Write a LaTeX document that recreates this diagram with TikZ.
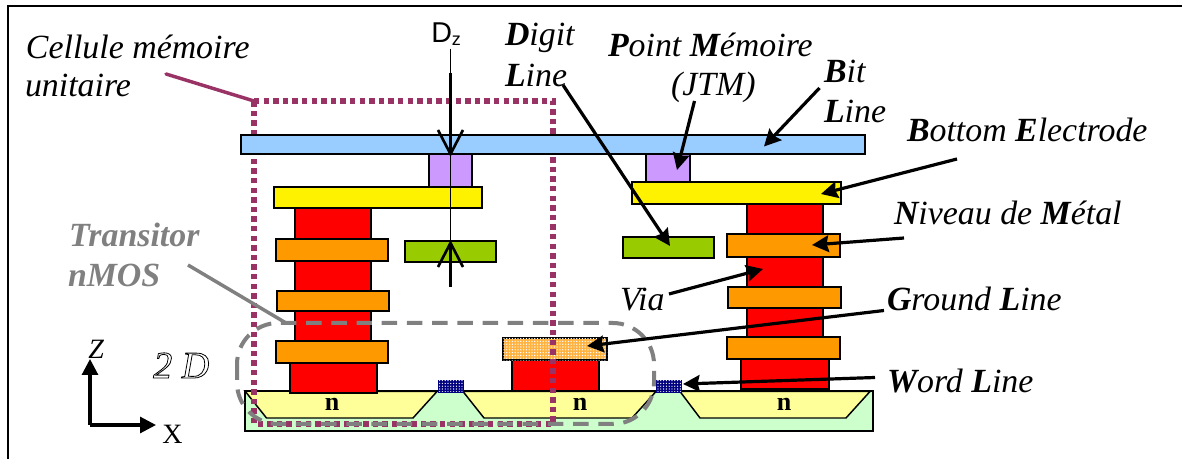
\documentclass[tikz,border=0pt]{standalone}
\usepackage{fontspec}
\setmainfont{Liberation Serif}
\setsansfont{Liberation Sans}
\usetikzlibrary{arrows.meta,patterns.meta}
\definecolor{cellc}{HTML}{993366}
\definecolor{grayc}{HTML}{808080}
\definecolor{bitc}{HTML}{99CCFF}
\definecolor{viac}{HTML}{CC99FF}
\definecolor{metalc}{HTML}{FF9900}
\definecolor{digitc}{HTML}{99CC00}
\definecolor{subc}{HTML}{CCFFCC}
\definecolor{wellc}{HTML}{FFFF99}
\definecolor{wordc}{HTML}{000080}
\newcommand{\Bi}[1]{\textbf{\textit{#1}}}
\newcommand{\blk}[6]{%
  \pgfmathsetmacro\blkw{(#4-#2)*0.75}%
  \pgfmathsetmacro\blkh{(#5-#3)*0.75}%
  \node[layer,#6,minimum width=\blkw pt,minimum height=\blkh pt] (#1) at ({(#2+#4)/2},{(#3+#5)/2}) {};}
\tikzset{
  x=0.75pt,y=-0.75pt,
  layer/.style={draw=black,line width=1.5pt,inner sep=0pt,outer sep=0pt},
  lab/.style={anchor=base west,inner sep=0pt,outer sep=0pt,font=\fontsize{25.4}{30}\selectfont\itshape},
  labgray/.style={lab,text=grayc,font=\fontsize{25.4}{30}\selectfont\itshape\bfseries},
  welltext/.style={anchor=base,inner sep=0pt,font=\fontsize{19.5}{24}\selectfont\bfseries},
  callout/.style={line width=2.4pt,-{Stealth[length=12.5pt,width=12.5pt,inset=1.5pt]}},
  vee/.style={line width=2pt,line join=miter},
  axisarrow/.style={line width=2.3pt,-{Triangle[length=12pt,width=12pt]}},
  celldots/.style={draw=cellc,line width=3.8pt,dash pattern=on 4pt off 3.2pt},
  tradash/.style={draw=grayc,line width=3pt,dash pattern=on 11.6pt off 7.3pt},
  dotsorange/.style={fill=metalc!75!white,postaction={pattern={Dots[distance=2.1pt,radius=0.55pt]},pattern color=white}},
  dotsblue/.style={fill=wordc,postaction={pattern={Dots[distance=2.1pt,radius=0.5pt]},pattern color=white}},
}
\begin{document}
\begin{tikzpicture}
\useasboundingbox (0,0) rectangle (1182,459);
% frame
\draw[line width=1.5pt] (8,459) -- (8,6) -- (1182,6);
% substrate and wells
\blk{sub}{245}{391}{873}{431}{fill=subc}
\draw[fill=wellc,line width=1.1pt] (245,391) -- (266.5,418) -- (413,418) -- (437,391.5) -- cycle;
\draw[fill=wellc,line width=1.1pt] (463,391.5) -- (484,418) -- (632,418) -- (656,391.5) -- cycle;
\draw[fill=wellc,line width=1.1pt] (680,391.5) -- (700,418) -- (846,418) -- (870,391.5) -- cycle;
\draw[line width=1.5pt] (245,391) -- (873,391);
% left column
\blk{rl1}{295}{208}{371}{342}{fill=red}
\blk{rl2}{289.5}{363}{376.5}{393}{fill=red}
\blk{ml1}{275.5}{239}{388}{261}{fill=metalc}
\blk{ml2}{277}{291}{389}{311}{fill=metalc}
\blk{ml3}{275.5}{341}{388}{363}{fill=metalc}
\blk{yl}{274}{187}{482}{208}{fill=yellow}
\blk{pl}{428.5}{154}{472}{187}{fill=viac}
\blk{gl}{405}{241.5}{496}{262}{fill=digitc}
% right column
\blk{rr1}{747}{204}{823}{337}{fill=red}
\blk{rr2}{741}{359}{829}{389}{fill=red}
\blk{mr1}{727}{234}{840}{257}{fill=metalc}
\blk{mr2}{728}{287}{841}{308}{fill=metalc}
\blk{mr3}{727}{337}{839.5}{359}{fill=metalc}
\blk{yr}{632}{182}{841}{204}{fill=yellow}
\blk{pr}{646}{154}{690}{182}{fill=viac}
\blk{gr}{623}{237}{714}{258}{fill=digitc}
% ground line stack and word lines
\blk{rg}{512}{360}{599}{391}{fill=red}
\blk{gnd}{503}{338}{607}{360.5}{dotsorange,draw=black}
\blk{wl1}{438.5}{381}{463}{392}{dotsblue,draw=wordc}
\blk{wl2}{657}{381}{681}{392}{dotsblue,draw=wordc}
% memory cell outline
\coordinate (cA) at (254,101);
\coordinate (cB) at (553,101);
\coordinate (cC) at (553,424);
\coordinate (cD) at (254,424);
\node[lab] (cellule) at (26,59) {Cellule mémoire};
\node[lab] (unitaire) at (25,97) {unitaire};
\coordinate (cL) at (166,74);
\draw[cellc,line width=2.6pt,line cap=round] (cL) -- (cA);
\draw[celldots] (cA) -- (cB) -- (cC) -- (cD) -- cycle;
% bit line above the outline
\blk{bit}{241}{135}{865}{154}{fill=bitc}
% transistor outline
\coordinate (tT) at (286,323);
\coordinate (tBR) at (654,424);
\coordinate (tTL) at (237,323);
\draw[tradash,rounded corners=31pt] (tTL) rectangle (tBR);
\node[labgray] (tra) at (69,247) {Transitor};
\node[labgray] (nmos) at (68,287) {nMOS};
\coordinate (tL) at (188,265);
\draw[grayc,line width=2.6pt] (tL) -- (tT);
% Dz
\node[anchor=base west,inner sep=0pt,font=\fontsize{21.5}{24}\selectfont\sffamily] (dz) at (431,43) {D\raisebox{-2pt}{\fontsize{13.5}{14}\selectfont z}};
\coordinate (dzT) at (450.5,49);
\coordinate (dzB) at (450.5,287);
\coordinate (dzA) at (450.5,154);
\coordinate (dzC) at (450.5,243);
\draw[line width=1pt] (dzT) -- (dzB);
\draw[line width=1.6pt] (450.5,73) -- (dzA);
\draw[line width=1.6pt] (dzC) -- (dzB);
\draw[vee] (438,130) -- (dzA) -- (463,130);
\draw[vee] (438,267) -- (dzC) -- (463,267);
% labels
\node[lab] (digit) at (505,46) {\Bi{D}igit};
\node[lab] (dline) at (505,87) {\Bi{L}ine};
\node[lab] (pm) at (608,57) {\Bi{P}oint \Bi{M}émoire};
\node[lab] (jtm) at (671,96) {(JTM)};
\node[lab] (bitt) at (824,83) {\Bi{B}it};
\node[lab] (bline) at (824,123) {\Bi{L}ine};
\node[lab] (be) at (907,142) {\Bi{B}ottom \Bi{E}lectrode};
\node[lab] (nm) at (894,225) {\Bi{N}iveau de \Bi{M}étal};
\node[lab] (via) at (620,311) {Via};
\node[lab] (gline) at (887,311) {\Bi{G}round \Bi{L}ine};
\node[lab] (wline) at (887,393) {\Bi{W}ord \Bi{L}ine};
\node[welltext] (n1) at (332,411) {n};
\node[welltext] (n2) at (580,411) {n};
\node[welltext] (n3) at (784,411) {n};
% callouts
\coordinate (a1) at (563,85);   \coordinate (b1) at (670,246);
\coordinate (a2) at (694.5,101);\coordinate (b2) at (677,170);
\coordinate (a3) at (819.5,88); \coordinate (b3) at (764,146.5);
\coordinate (a4) at (957,159);  \coordinate (b4) at (821,194);
\coordinate (a5) at (904,238);  \coordinate (b5) at (812,245);
\coordinate (a6) at (669,294);  \coordinate (b6) at (763,269);
\coordinate (a7) at (884,310.5);\coordinate (b7) at (587,346);
\coordinate (a8) at (875,377.5);\coordinate (b8) at (683,384);
\draw[callout] (a1) -- (b1);
\draw[callout] (a2) -- (b2);
\draw[callout] (a3) -- (b3);
\draw[callout] (a4) -- (b4);
\draw[callout] (a5) -- (b5);
\draw[callout] (a6) -- (b6);
\draw[callout] (a7) -- (b7);
\draw[callout] (a8) -- (b8);
% axes
\coordinate (org) at (90,425);
\coordinate (axZ) at (90,359);
\coordinate (axX) at (156,425);
\draw[axisarrow] (org) -- (axZ);
\draw[axisarrow] (org) -- (axX);
\node[anchor=base west,inner sep=0pt,font=\fontsize{21}{24}\selectfont\itshape] (zl) at (88,359) {Z};
\node[anchor=base west,inner sep=0pt,font=\fontsize{21}{24}\selectfont] (xl) at (162,444) {X};
\node[anchor=base west,inner sep=0pt,font=\fontsize{28.5}{30}\selectfont\itshape] (twod) at (153,378) {\special{pdf:code 1 Tr 0.6 w}2 D\special{pdf:code 0 Tr 1 w}};
\end{tikzpicture}
\end{document}
